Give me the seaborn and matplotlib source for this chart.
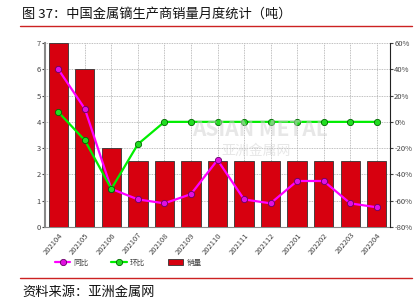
import matplotlib
matplotlib.use("Agg")
import matplotlib.pyplot as plt
import seaborn as sns
import pandas as pd
from matplotlib.lines import Line2D
from matplotlib.patches import Patch

months = ["202104", "202105", "202106", "202107", "202108", "202109", "202110",
          "202111", "202112", "202201", "202202", "202203", "202204"]
sales = [7, 6, 3, 2.5, 2.5, 2.5, 2.5, 2.5, 2.5, 2.5, 2.5, 2.5, 2.5]
yoy = [40, 10, -51, -59, -62, -55, -29, -59, -62, -45, -45, -62, -65]
mom = [7.5, -14, -51, -17, 0, 0, 0, 0, 0, 0, 0, 0, 0]
left_ticks = [0, 1, 2, 3, 4, 5, 6, 7]
right_ticks = [-80, -60, -40, -20, 0, 20, 40, 60]

sns.set_style("white")
plt.rcParams['font.family'] = ['Noto Sans CJK SC', 'DejaVu Sans']

df = pd.DataFrame({"month": months, "sales": sales, "yoy": yoy, "mom": mom})

fig = plt.figure(figsize=(4.19, 3.05), dpi=100)
ax = fig.add_axes([45/419, 1-227/305, (390-45)/419, (227-43)/305])

sns.barplot(data=df, x="month", y="sales", color="#D7000F", edgecolor="#333333",
            linewidth=0.6, width=0.73, saturation=1, ax=ax, zorder=3)
ax.set_ylim(0, 7)
ax.set_yticks(left_ticks)
ax.set_xlim(-0.5, len(months) - 0.5)
ax.grid(True, color="#aaaaaa", linestyle=(0, (1, 1)), linewidth=0.6, zorder=0)
ax.set_axisbelow(True)
ax.set_xlabel("")
ax.set_ylabel("")
ax.tick_params(axis="y", labelsize=5.5, colors="#444444", length=2, pad=1)
ax.tick_params(axis="x", labelsize=5.5, colors="#444444", length=2, pad=1, rotation=50)
for lbl in ax.get_xticklabels():
    lbl.set_ha("right")
    lbl.set_rotation_mode("anchor")
ax.spines["top"].set_visible(False)
ax.spines["left"].set_color("#888888")
ax.spines["left"].set_linewidth(1.5)
ax.spines["bottom"].set_color("#888888")
ax.spines["right"].set_visible(False)

ax2 = ax.twinx()
sns.lineplot(data=df, x="month", y="yoy", color="#FF00FF", linewidth=1.6,
             marker="o", markersize=4.5, markerfacecolor="#E010E0",
             markeredgecolor="#660066", markeredgewidth=0.6, ax=ax2, zorder=5)
sns.lineplot(data=df, x="month", y="mom", color="#00EE00", linewidth=1.6,
             marker="o", markersize=4.5, markerfacecolor="#22DD22",
             markeredgecolor="#006600", markeredgewidth=0.6, ax=ax2, zorder=5)
ax2.set_ylim(-80, 60)
ax2.set_yticks(right_ticks)
ax2.set_yticklabels([f"{t}%" for t in right_ticks])
ax2.set_xlim(-0.5, len(months) - 0.5)
ax2.set_ylabel("")
ax2.set_xlabel("")
ax2.tick_params(axis="y", labelsize=5.5, colors="#444444", length=2, pad=1)
ax2.spines["top"].set_visible(False)
ax2.spines["left"].set_visible(False)
ax2.spines["bottom"].set_visible(False)
ax2.spines["right"].set_color("#222222")
ax2.spines["right"].set_linewidth(0.8)

# watermark
fig.text(0.62, 0.575, "ASIAN METAL", fontsize=15, color="#d0d0d0", alpha=0.5,
         ha="center", va="center", fontweight="bold", zorder=10)
fig.text(0.61, 0.505, "亚洲金属网", fontsize=10, color="#d0d0d0", alpha=0.5,
         ha="center", va="center", zorder=10)

handles = [
    Line2D([0], [0], color="#FF00FF", linewidth=1.6, marker="o", markersize=4.5,
           markerfacecolor="#E010E0", markeredgecolor="#660066", markeredgewidth=0.6),
    Line2D([0], [0], color="#00EE00", linewidth=1.6, marker="o", markersize=4.5,
           markerfacecolor="#22DD22", markeredgecolor="#006600", markeredgewidth=0.6),
    Patch(facecolor="#D7000F", edgecolor="#333333", linewidth=0.6),
]
fig.legend(handles, ["同比", "环比", "销量"], loc="center left",
           bbox_to_anchor=(48/419, 1-263/305), ncol=3, frameon=False,
           fontsize=5.5, handlelength=2.0, handleheight=0.8, columnspacing=3.0,
           handletextpad=0.4, labelcolor="#444444")

# title and source
fig.text(22/419, 1-14/305, "图 37：中国金属镝生产商销量月度统计（吨）", fontsize=9.5,
         color="#111111", ha="left", va="center")
fig.add_artist(Line2D([20/419, 412/419], [1-26/305, 1-26/305], color="#CC2222",
                      linewidth=1.0, transform=fig.transFigure))
fig.add_artist(Line2D([20/419, 412/419], [1-278/305, 1-278/305], color="#CC2222",
                      linewidth=1.0, transform=fig.transFigure))
fig.text(22/419, 1-292/305, "资料来源：亚洲金属网", fontsize=9.5,
         color="#111111", ha="left", va="center")

fig.savefig("out.png", dpi=100)
